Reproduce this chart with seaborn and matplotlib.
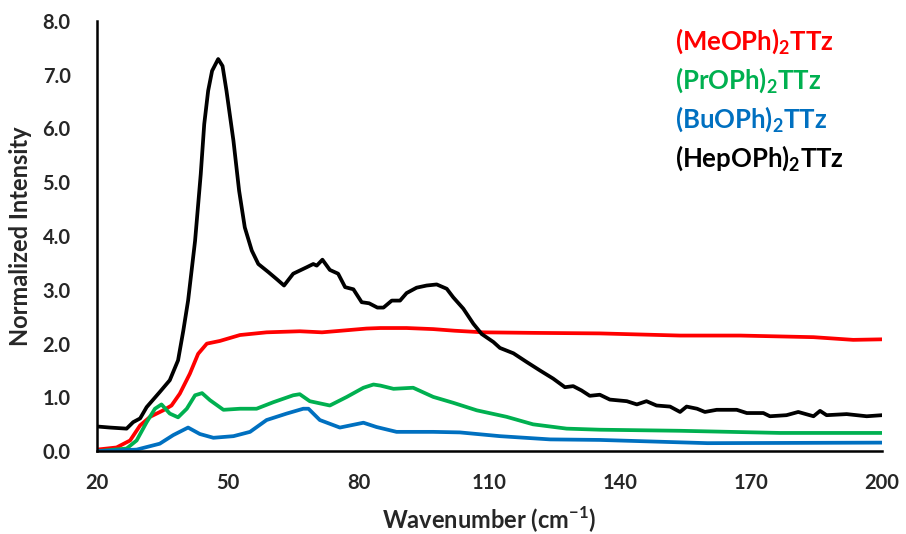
import matplotlib
matplotlib.use("Agg")
import matplotlib.pyplot as plt
import seaborn as sns

sns.set_style("white")
plt.rcParams['font.family'] = ['Lato', 'DejaVu Sans']
plt.rcParams['mathtext.fontset'] = 'custom'
plt.rcParams['mathtext.rm'] = 'Lato'
plt.rcParams['mathtext.bf'] = 'Lato:bold'

# ---- data ----
hep_x = [20, 23, 26.8, 28.3, 29.9, 31.4, 34.4, 36.7, 38.6, 39.8, 40.9, 42.5, 43.8, 44.6, 45.5, 46.4,
         47.8, 48.8, 49.7, 51.3, 52.6, 53.9, 55.5, 57.0, 59.3, 61.2, 62.9, 65.0, 68.1, 69.6, 70.4, 71.7,
         73.4, 75.3, 76.9, 78.8, 80.7, 82.4, 84.3, 85.7, 87.6, 89.5, 91.0, 93.3, 95.6, 97.9, 100.2,
         101.7, 104.0, 106.3, 108.2, 110.9, 112.4, 115.5, 118.5, 121.6, 124.6, 127.3, 129.2, 131.1,
         133.0, 135.3, 137.6, 141.5, 143.8, 146.0, 148.3, 151.4, 153.7, 155.2, 157.6, 159.4, 162.1,
         166.7, 169.0, 172.8, 174.3, 178.1, 180.8, 184.3, 185.8, 187.3, 191.9, 196.5, 200]
hep_y = [0.46, 0.44, 0.42, 0.54, 0.61, 0.82, 1.10, 1.32, 1.69, 2.24, 2.80, 3.91, 5.15, 6.08, 6.70, 7.07,
         7.29, 7.16, 6.70, 5.77, 4.84, 4.16, 3.73, 3.48, 3.33, 3.20, 3.08, 3.30, 3.42, 3.48, 3.45, 3.56,
         3.37, 3.30, 3.05, 3.01, 2.77, 2.75, 2.67, 2.67, 2.80, 2.80, 2.94, 3.04, 3.08, 3.10, 3.02,
         2.86, 2.65, 2.37, 2.18, 2.03, 1.92, 1.82, 1.66, 1.50, 1.35, 1.19, 1.21, 1.13,
         1.03, 1.05, 0.96, 0.93, 0.87, 0.93, 0.85, 0.83, 0.73, 0.83, 0.79, 0.73, 0.77,
         0.77, 0.71, 0.71, 0.65, 0.67, 0.73, 0.65, 0.75, 0.67, 0.69, 0.65, 0.67]

me_x = [20, 24.5, 27.6, 29.9, 32.2, 35.2, 37.1, 39.0, 41.3, 43.2, 45.2, 48.2, 52.8, 58.9, 66.5, 71.6,
        76, 81.8, 85, 91.0, 97.1, 102, 108.6, 120, 135.3, 153.7, 167.5, 184.3, 193.4, 200]
me_y = [0.03, 0.07, 0.2, 0.48, 0.64, 0.76, 0.85, 1.07, 1.44, 1.81, 2.0, 2.05, 2.16, 2.21, 2.23, 2.21,
        2.24, 2.28, 2.29, 2.29, 2.27, 2.24, 2.21, 2.20, 2.19, 2.15, 2.15, 2.12, 2.07, 2.08]

pr_x = [20, 26.8, 29.1, 31.4, 33.3, 34.8, 36.7, 38.6, 40.6, 42.5, 44.1, 45.9, 49.0, 52.8, 56.6, 60.4,
        65.0, 66.5, 68.8, 73.4, 77.3, 81.1, 83.4, 85, 88.0, 92.5, 97.1, 101.7, 107.1, 113.9, 120.0,
        127.7, 135.3, 153.7, 176.6, 200]
pr_y = [0.0, 0.05, 0.2, 0.54, 0.79, 0.87, 0.70, 0.63, 0.79, 1.04, 1.08, 0.95, 0.77, 0.79, 0.79, 0.91,
        1.04, 1.06, 0.93, 0.85, 1.01, 1.18, 1.24, 1.22, 1.16, 1.18, 1.01, 0.90, 0.76, 0.64, 0.50,
        0.42, 0.40, 0.38, 0.34, 0.34]

bu_x = [20, 29.1, 34.4, 37.5, 40.9, 43.6, 46.7, 51.3, 55.1, 58.9, 63.5, 67.3, 68.5, 71.1, 75.7, 81.1,
        84.1, 88.7, 97.1, 103.2, 112.4, 123.9, 135.3, 160, 200]
bu_y = [0.0, 0.03, 0.14, 0.30, 0.44, 0.32, 0.25, 0.28, 0.36, 0.58, 0.70, 0.79, 0.79, 0.58, 0.44, 0.53,
        0.45, 0.36, 0.36, 0.35, 0.28, 0.22, 0.21, 0.15, 0.16]

labels = [r"(MeOPh)$\mathbf{_2}$TTz", r"(PrOPh)$\mathbf{_2}$TTz",
          r"(BuOPh)$\mathbf{_2}$TTz", r"(HepOPh)$\mathbf{_2}$TTz"]
colors = ["#FF0000", "#00B050", "#0070C0", "#000000"]
x_ticks = [20, 50, 80, 110, 140, 170, 200]
y_ticks = [0, 1, 2, 3, 4, 5, 6, 7, 8]

fig = plt.figure(figsize=(9.06, 5.34), dpi=100)
ax = fig.add_axes([0.107, 0.155, 0.8665, 0.806])

series = [(me_x, me_y), (pr_x, pr_y), (bu_x, bu_y), (hep_x, hep_y)]
for (xs, ys), c in zip(series, colors):
    sns.lineplot(x=xs, y=ys, ax=ax, color=c, linewidth=2.7, estimator=None, sort=False)
for line in ax.get_lines():
    line.set_solid_joinstyle('round')
    line.set_solid_capstyle('round')

ax.set_xlim(20, 200)
ax.set_ylim(0, 8)
ax.set_xticks(x_ticks)
ax.set_yticks(y_ticks)
ax.set_xticklabels([str(t) for t in x_ticks], fontsize=14.5, fontweight='bold')
ax.set_yticklabels([f"{t:.1f}" for t in y_ticks], fontsize=14.5, fontweight='bold')
ax.tick_params(axis='y', length=0, pad=19)
ax.tick_params(axis='x', length=0, pad=16)

for s in ['top', 'right']:
    ax.spines[s].set_visible(False)
for s in ['left', 'bottom']:
    ax.spines[s].set_color('black')
    ax.spines[s].set_linewidth(1.8)

ax.set_xlabel(r"Wavenumber (cm$^{\mathbf{-1}}$)", fontsize=17, fontweight='bold', labelpad=8)
ax.set_ylabel("Normalized Intensity", fontsize=17, fontweight='bold')
ax.yaxis.set_label_coords(-0.083, 0.5)

for i, (lab, c) in enumerate(zip(labels, colors)):
    fig.text(675 / 906, 1 - (50 + 39 * i) / 534, lab, color=c, fontsize=18.5,
             fontweight='bold', ha='left', va='baseline')

fig.savefig("out.png", dpi=100)
